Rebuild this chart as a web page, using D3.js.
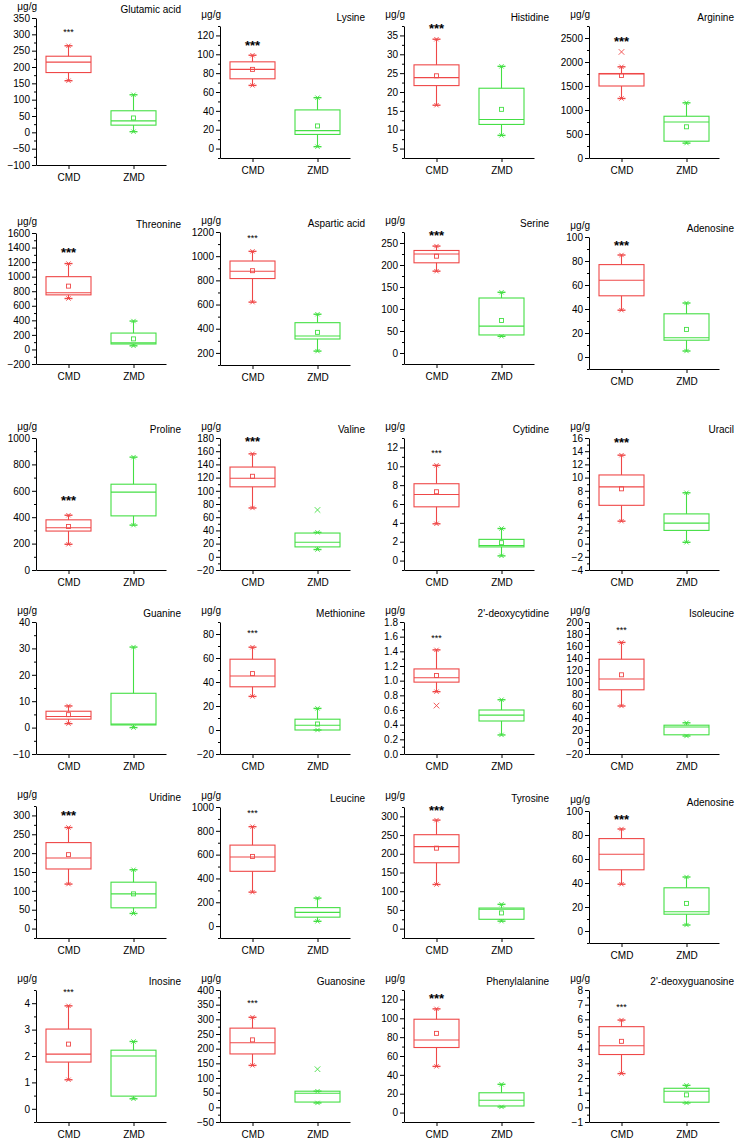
<!DOCTYPE html>
<html>
<head>
<meta charset="utf-8">
<script src="https://cdn.jsdelivr.net/npm/d3@7"></script>
<style>
  body { margin: 0; background: #fff; }
  text { font-family: "Liberation Sans", Arial, sans-serif; }
</style>
</head>
<body>
<svg id="chart" width="742" height="1148"></svg>
<script>
const names = ["Glutamic acid", "Lysine", "Histidine", "Arginine",
  "Threonine", "Aspartic acid", "Serine", "Adenosine",
  "Proline", "Valine", "Cytidine", "Uracil",
  "Guanine", "Methionine", "2'-deoxycytidine", "Isoleucine",
  "Uridine", "Leucine", "Tyrosine", "Adenosine",
  "Inosine", "Guanosine", "Phenylalanine", "2'-deoxyguanosine"];
const groups = ["CMD", "ZMD"];

// [whisker low, Q1, median, Q3, whisker high]
const cmdBox = [
  [158, 183, 215, 233, 265], [67, 74, 84, 92, 99], [16.5, 21.7, 23.8, 27.2, 34], [1240, 1500, 1750, 1760, 1900],
  [700, 750, 780, 1000, 1180], [620, 815, 875, 960, 1040], [186, 205, 225, 233, 243], [39, 51, 64, 77, 85],
  [195, 295, 320, 380, 415], [74, 106, 119, 136, 156], [3.9, 5.7, 7.0, 8.15, 10.1], [3.4, 5.8, 8.6, 10.4, 13.4],
  [1.5, 3.2, 4.2, 6.2, 8.2], [28, 36, 45, 59, 69], [0.85, 0.98, 1.04, 1.16, 1.42], [60, 87, 105, 138, 166],
  [118, 158, 187, 228, 268], [285, 460, 580, 680, 835], [118, 176, 219, 251, 290], [39, 51, 64, 77, 85],
  [1.1, 1.77, 2.07, 3.02, 3.9], [143, 182, 220, 270, 307], [49, 69, 77, 99, 110], [2.3, 3.6, 4.2, 5.5, 5.95]
];
const zmdBox = [
  [2, 22, 35, 66, 115], [2, 15, 19, 41, 54], [8.5, 11.4, 12.7, 21, 26.8], [310, 350, 750, 870, 1150],
  [50, 75, 90, 225, 390], [215, 315, 340, 450, 520], [38, 41, 61, 125, 138], [5, 14, 16, 36, 45],
  [340, 410, 590, 650, 855], [11, 15, 22, 36, 37], [0.5, 1.45, 1.6, 2.25, 3.4], [0.2, 2.0, 3.1, 4.5, 7.7],
  [0, 1.0, 1.3, 13, 30.5], [0, 0, 4, 9, 18], [0.26, 0.45, 0.53, 0.6, 0.74], [10, 12, 25, 28, 32],
  [40, 55, 92, 123, 156], [40, 75, 115, 155, 235], [20, 25, 52, 55, 65], [5, 14, 16, 36, 45],
  [0.38, 0.48, 2.0, 2.22, 2.55], [15, 18, 48, 55, 55], [6, 7, 13, 21, 30], [0.3, 0.35, 1.1, 1.3, 1.5]
];
const cmdMean = [null, 84, 24.3, 1720, 870, 880, 220, null, 330, 122, 7.3, 8.3,
  4.9, 47, 1.07, 112, 196, 585, 215, null, 2.45, 230, 84, 4.5];
const zmdMean = [44, 24, 15.4, 650, 145, 370, 74, 23, null, null, 1.9, null,
  null, 5, null, null, 92, null, 42, 23, null, null, null, 0.85];
const cmdOutlier = [null, null, null, 2210, null, null, null, null, null, null, null, null,
  null, null, 0.66, null, null, null, null, null, null, null, null, null];
const zmdOutlier = [null, null, null, null, null, null, null, null, null, 71, null, null,
  null, null, null, null, null, null, null, null, null, 130, null, null];
const starValue = [315, 113, 37.6, 2500, 1372, 1172, 275, 95.5, 549, 180, 11.65, 15.75,
  null, 83, 1.61, 191, 309, 972, 325, 95.6, 4.5, 363, 125, 7.0];
const yDomains = [
  [-100, 350], [-10, 130], [2.5, 37.5], [0, 2750],
  [-200, 1600], [100, 1200], [-25, 275], [-10, 100],
  [0, 1000], [-20, 180], [-1, 13], [-4, 16],
  [-10, 40], [-20, 90], [0, 1.8], [-20, 200],
  [-25, 325], [-100, 1000], [-25, 325], [-10, 100],
  [-0.5, 4.5], [-50, 400], [-10, 130], [-1, 8]
];
const tickSteps = [50, 20, 5, 500, 200, 200, 50, 20, 200, 20, 2, 2,
  10, 20, 0.2, 20, 50, 200, 50, 20, 1, 50, 20, 1];

// layout
const colX = [36, 220, 404, 589];
const plotW = 130;
const frames = [
  [18, 165], [26, 158], [26, 158], [26, 158],
  [233, 364], [232, 365], [232, 364], [237, 369],
  [438, 570], [438, 570], [438, 570], [438, 570],
  [622, 754], [622, 754], [622, 754], [622, 754],
  [806, 938], [807, 938], [807, 938], [811, 943],
  [990, 1122], [990, 1122], [990, 1122], [990, 1122]
];
const starBig = [0, 1, 1, 1, 1, 0, 1, 1, 1, 1, 0, 1, 0, 0, 0, 0, 1, 0, 1, 1, 0, 0, 1, 0];
const colors = { CMD: "#ef4848", ZMD: "#44df44" };
const boxW = 45, capW = 8;

const svg = d3.select("#chart");
const font = '"Liberation Sans", Arial, sans-serif';

names.forEach((name, i) => {
  const x0 = colX[i % 4];
  const [top, bottom] = frames[i];
  const step = tickSteps[i];
  const [lo, hi] = yDomains[i];

  const y = d3.scaleLinear().domain([lo, hi]).range([bottom, top]);
  const x = d3.scalePoint().domain(groups).range([0, plotW]).padding(0.5);

  const g = svg.append("g").attr("transform", `translate(${x0},0)`);

  const fix = v => +v.toFixed(6);
  const major = d3.range(Math.ceil(lo / step - 1e-9), Math.floor(hi / step + 1e-9) + 1).map(k => fix(k * step));
  const half = step / 2;
  const minor = d3.range(Math.ceil(lo / half - 1e-9), Math.floor(hi / half + 1e-9) + 1)
    .filter(k => Math.abs(k % 2) === 1).map(k => fix(k * half));
  const fmt = step < 1 ? d3.format(".1f") : d3.format("d");

  g.append("g")
    .call(d3.axisLeft(y).tickValues(minor).tickSize(2).tickSizeOuter(0).tickFormat(""))
    .call(a => a.select(".domain").remove());
  g.append("g")
    .attr("font-family", font).attr("font-size", 10)
    .call(d3.axisLeft(y).tickValues(major).tickSize(4).tickSizeOuter(0).tickPadding(2).tickFormat(fmt));

  g.append("g")
    .attr("transform", `translate(0,${bottom})`)
    .attr("font-family", font).attr("font-size", 10.5)
    .call(d3.axisBottom(x).tickSize(4).tickSizeOuter(0).tickPadding(5));

  g.append("text").attr("x", 1).attr("y", top - 8)
    .attr("text-anchor", "end").attr("font-size", 10).text("μg/g");
  g.append("text").attr("x", 145).attr("y", top - 5)
    .attr("text-anchor", "end").attr("font-size", 10).text(name);

  const sets = [
    { grp: "CMD", box: cmdBox[i], mean: cmdMean[i], out: cmdOutlier[i] },
    { grp: "ZMD", box: zmdBox[i], mean: zmdMean[i], out: zmdOutlier[i] }
  ];

  sets.forEach(s => {
    const cx = x(s.grp);
    const c = colors[s.grp];
    const [wl, q1, md, q3, wh] = s.box;
    const bg = g.append("g").attr("stroke", c).attr("fill", "none").attr("stroke-width", 1.1);

    bg.append("line").attr("x1", cx).attr("x2", cx).attr("y1", y(q3)).attr("y2", y(wh));
    bg.append("line").attr("x1", cx).attr("x2", cx).attr("y1", y(q1)).attr("y2", y(wl));
    bg.append("rect").attr("x", cx - boxW / 2).attr("width", boxW)
      .attr("y", y(q3)).attr("height", Math.max(0.5, y(q1) - y(q3)));
    bg.append("line").attr("x1", cx - boxW / 2).attr("x2", cx + boxW / 2)
      .attr("y1", y(md)).attr("y2", y(md));

    [wl, wh].forEach(v => {
      bg.append("line").attr("x1", cx - capW / 2).attr("x2", cx + capW / 2)
        .attr("y1", y(v)).attr("y2", y(v)).attr("stroke-width", 1.4);
      bg.append("path").attr("d", d3.symbol(d3.symbolX, 14)())
        .attr("transform", `translate(${cx},${y(v)})`).attr("stroke-width", 0.9);
    });

    if (s.mean !== null) {
      bg.append("rect").attr("x", cx - 2).attr("y", y(s.mean) - 2)
        .attr("width", 4).attr("height", 4).attr("stroke-width", 0.9);
    }
    if (s.out !== null) {
      bg.append("path").attr("d", d3.symbol(d3.symbolX, 22)())
        .attr("transform", `translate(${cx},${y(s.out)})`).attr("stroke-width", 0.9);
    }
  });

  if (starValue[i] !== null) {
    const fs = starBig[i] ? 13 : 9;
    g.append("text")
      .attr("x", x("CMD")).attr("y", y(starValue[i]) + fs * 0.6)
      .attr("text-anchor", "middle").attr("font-size", fs)
      .attr("font-weight", starBig[i] ? "bold" : "normal")
      .text("***");
  }
});
</script>
</body>
</html>
